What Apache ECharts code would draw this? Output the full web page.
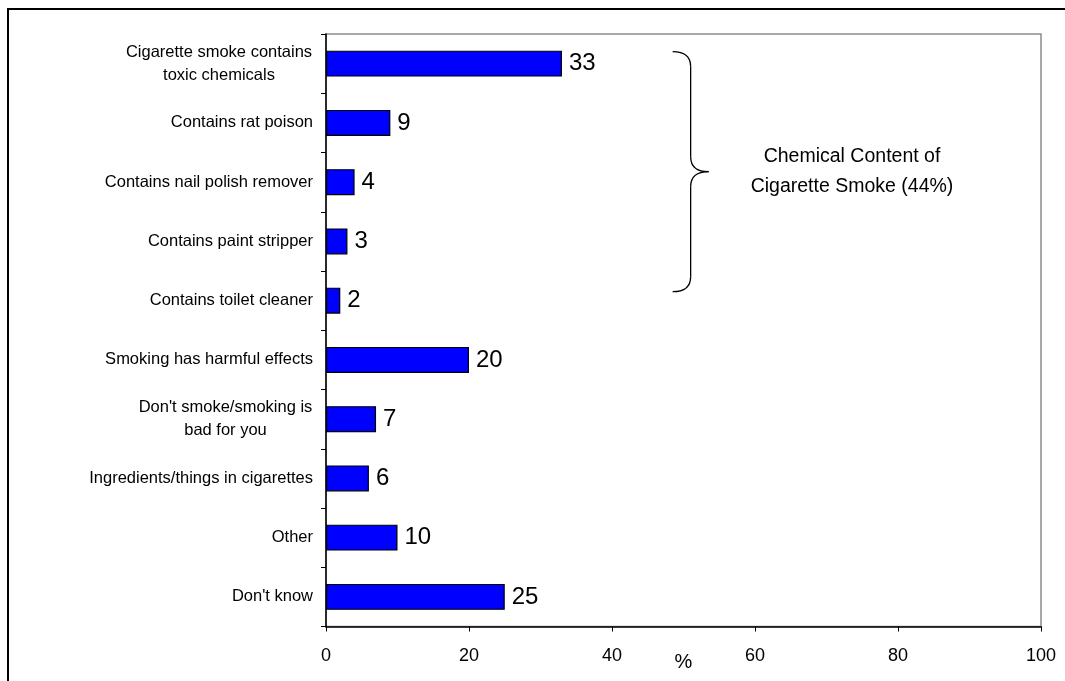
<!DOCTYPE html>
<html>
<head>
<meta charset="utf-8">
<script src="https://cdn.jsdelivr.net/npm/echarts@6/dist/echarts.min.js"></script>
<style>
html,body{margin:0;padding:0;background:#fff;}
#chart{width:1065px;height:681px;}
</style>
</head>
<body>
<div id="chart"></div>
<script>
const categories = [
  "Cigarette smoke contains\ntoxic chemicals",
  "Contains rat poison",
  "Contains nail polish remover",
  "Contains paint stripper",
  "Contains toilet cleaner",
  "Smoking has harmful effects",
  "Don't smoke/smoking is\nbad for you",
  "Ingredients/things in cigarettes",
  "Other",
  "Don't know"
];
const values = [33, 9, 4, 3, 2, 20, 7, 6, 10, 25];
const xTicks = [0, 20, 40, 60, 80, 100];
const bracketText = "Chemical Content of\nCigarette Smoke (44%)";

const FONT = "Arial, 'Liberation Sans', sans-serif";
const CAT_FS = 16.5;

// measure multi-line labels so their lines can be centred in a right-aligned block
const ctx = document.createElement('canvas').getContext('2d');
ctx.font = CAT_FS + 'px ' + FONT;
const rich = {};
const catKey = {};
categories.forEach((c, i) => {
  if (c.indexOf('\n') >= 0) {
    const w = Math.max(...c.split('\n').map(s => ctx.measureText(s).width));
    rich['c' + i] = {width: Math.ceil(w) + 1, align: 'center', fontSize: CAT_FS, lineHeight: 23, color: '#000', fontFamily: FONT};
    catKey[c] = 'c' + i;
  }
});

const chart = echarts.init(document.getElementById('chart'), null, {renderer: 'canvas'});

const option = {
  animation: false,
  backgroundColor: '#fff',
  textStyle: {fontFamily: FONT},
  grid: {
    left: 326, right: 24, top: 34, bottom: 54.5,
    outerBoundsMode: 'none', containLabel: false,
    show: true, borderColor: '#8c8c8c', borderWidth: 1.5, backgroundColor: 'transparent'
  },
  xAxis: {
    type: 'value',
    min: xTicks[0], max: xTicks[xTicks.length - 1], interval: 20,
    name: '%', nameLocation: 'middle', nameGap: 26, nameMoveOverlap: false,
    nameTextStyle: {fontSize: 20, color: '#000', fontFamily: FONT},
    axisLine: {show: true, lineStyle: {color: '#000', width: 1.5}},
    axisTick: {show: true, length: 5, lineStyle: {color: '#000'}},
    axisLabel: {fontSize: 18, color: '#000', margin: 21, fontFamily: FONT},
    splitLine: {show: false}
  },
  yAxis: {
    type: 'category',
    data: categories,
    inverse: true,
    axisLine: {show: true, lineStyle: {color: '#000', width: 1.5}},
    axisTick: {show: true, length: 5, lineStyle: {color: '#000'}},
    axisLabel: {
      fontSize: CAT_FS, color: '#000', margin: 13, lineHeight: 23, fontFamily: FONT, align: 'right',
      rich: rich,
      formatter: function (v) {
        const k = catKey[v];
        if (!k) return v;
        return v.split('\n').map(s => '{' + k + '|' + s + '}').join('\n');
      }
    },
    splitLine: {show: false}
  },
  series: [{
    type: 'bar',
    data: values,
    barWidth: 26,
    itemStyle: {color: '#0000ff', borderColor: '#000', borderWidth: 1.2},
    label: {show: true, position: 'right', distance: 7, fontSize: 24, color: '#000', fontFamily: FONT}
  }]
};
chart.setOption(option);

// Bracket annotation anchored to the categories it spans
const yTop = chart.convertToPixel({yAxisIndex: 0}, categories[0]) - 12;
const yBot = chart.convertToPixel({yAxisIndex: 0}, categories[4]) - 9;
const xSpine = chart.convertToPixel({xAxisIndex: 0}, 51);
const xEnd = xSpine - 18;
const xTip = xSpine + 18;
const yMid = (yTop + yBot) / 2;
const r = 15;
const braceStyle = {fill: 'none', stroke: '#000', lineWidth: 1.3};
const braceParts = [
  {type: 'bezierCurve', shape: {x1: xEnd, y1: yTop, x2: xSpine, y2: yTop + r, cpx1: xSpine, cpy1: yTop}},
  {type: 'line', shape: {x1: xSpine, y1: yTop + r, x2: xSpine, y2: yMid - r}},
  {type: 'bezierCurve', shape: {x1: xSpine, y1: yMid - r, x2: xTip, y2: yMid, cpx1: xSpine, cpy1: yMid}},
  {type: 'bezierCurve', shape: {x1: xTip, y1: yMid, x2: xSpine, y2: yMid + r, cpx1: xSpine, cpy1: yMid}},
  {type: 'line', shape: {x1: xSpine, y1: yMid + r, x2: xSpine, y2: yBot - r}},
  {type: 'bezierCurve', shape: {x1: xSpine, y1: yBot - r, x2: xEnd, y2: yBot, cpx1: xSpine, cpy1: yBot}}
].map(p => Object.assign(p, {style: braceStyle, silent: true, z: 100}));

chart.setOption({
  graphic: [
    {type: 'rect', shape: {x: 8, y: 9, width: 1100, height: 720}, style: {fill: 'none', stroke: '#000', lineWidth: 2}, silent: true, z: 100}
  ].concat(braceParts).concat([
    {type: 'text', x: 852, y: yMid, style: {text: bracketText, fontSize: 19.5, lineHeight: 30, fill: '#000', align: 'center', verticalAlign: 'middle', fontFamily: FONT}, silent: true, z: 100}
  ])
});
</script>
</body>
</html>
